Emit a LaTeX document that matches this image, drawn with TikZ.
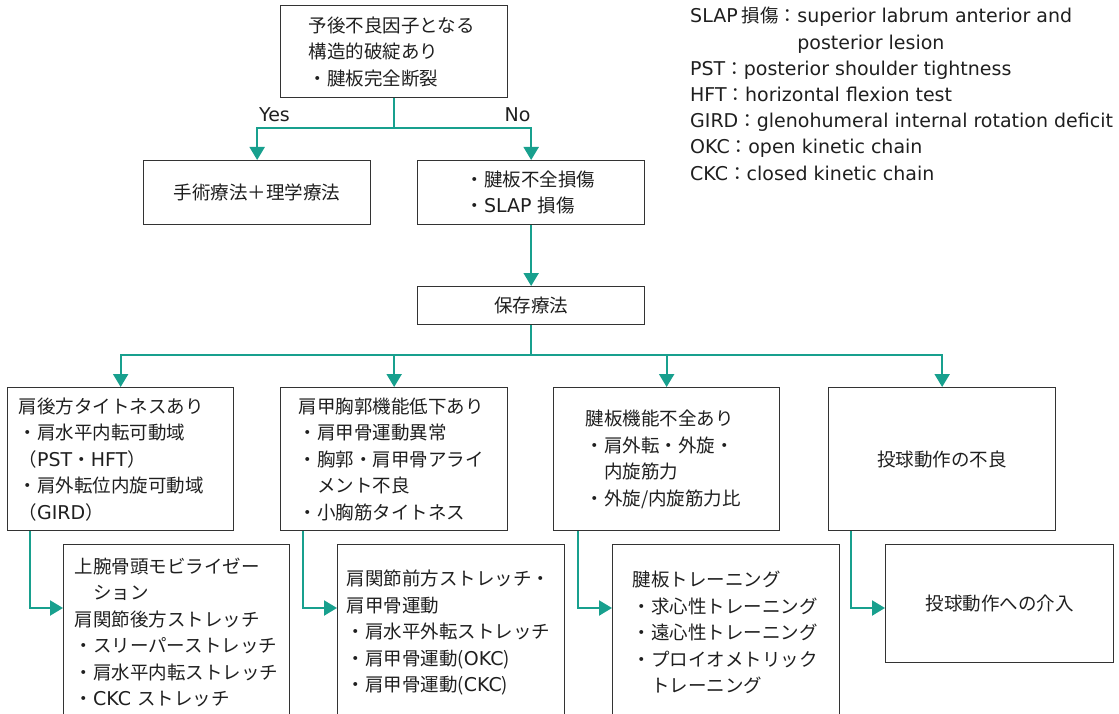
\documentclass[tikz,border=0pt]{standalone}
\usepackage{fontspec}
\setmainfont{Noto Sans CJK JP}
\newfontfamily\enfont{DejaVu Sans}
\usetikzlibrary{arrows.meta}
\definecolor{tealc}{RGB}{24,160,142}
\definecolor{boxc}{RGB}{51,51,51}
\newcommand{\E}[1]{{\enfont\fontsize{19pt}{26.5pt}\selectfont #1}}
\begin{document}
\begin{tikzpicture}[x=1pt,y=-1pt,
  every node/.style={font=\fontsize{18.5pt}{26.5pt}\selectfont, text=black!88},
  box/.style={draw=boxc, line width=1.3pt, rectangle, anchor=north west, inner ysep=0pt, align=left},
  cbox/.style={draw=boxc, line width=1.3pt, rectangle, anchor=north west, inner sep=0pt, align=center},
  link/.style={draw=tealc, line width=2.2pt, line join=miter},
  arr/.style={link, -{Triangle[width=15pt,length=13pt]}},
  legend/.style={anchor=base west, inner sep=0pt}
]
\useasboundingbox (0,0) rectangle (1119,714);

% top decision
\node[box, text width=171pt, inner xsep=28pt, minimum height=92pt] (top) at (280,5)
  {予後不良因子となる\\構造的破綻あり\\・腱板完全断裂};
\node[cbox, minimum width=227pt, minimum height=64pt] (surg) at (143,160) {手術療法＋理学療法};
\node[box, text width=131pt, inner xsep=48pt, minimum height=64pt] (no) at (417,160)
  {・腱板不全損傷\\・\E{SLAP} 損傷};
\node[cbox, minimum width=227pt, minimum height=38pt] (keep) at (417,286) {保存療法};

\node (yes) at (274.5,115) {\E{Yes}};
\node (nolab) at (517.5,115) {\E{No}};

% second level
\node[box, text width=204pt, inner xsep=11pt, minimum height=143pt] (A) at (7,387)
  {肩後方タイトネスあり\\・肩水平内転可動域\\（\E{PST}・\E{HFT}）\\・肩外転位内旋可動域\\（\E{GIRD}）};
\node[box, text width=191pt, inner xsep=18pt, minimum height=143pt] (B) at (280,387)
  {肩甲胸郭機能低下あり\\・肩甲骨運動異常\\・胸郭・肩甲骨アライ\\\hspace*{1em}メント不良\\・小胸筋タイトネス};
\node[box, text width=162pt, inner xsep=32pt, minimum height=143pt] (C) at (553,387)
  {腱板機能不全あり\\・肩外転・外旋・\\\hspace*{1em}内旋筋力\\・外旋/内旋筋力比};
\node[cbox, minimum width=227pt, minimum height=143pt] (D) at (828,387) {投球動作の不良};

% third level
\node[box, text width=204pt, inner xsep=11pt, minimum height=176pt] (E) at (63,544)
  {上腕骨頭モビライゼー\\\hspace*{1em}ション\\肩関節後方ストレッチ\\・スリーパーストレッチ\\・肩水平内転ストレッチ\\・\E{CKC} ストレッチ};
\node[box, text width=209pt, inner xsep=9pt, minimum height=176pt] (F) at (337,544)
  {肩関節前方ストレッチ・\\肩甲骨運動\\・肩水平外転ストレッチ\\・肩甲骨運動(\E{OKC})\\・肩甲骨運動(\E{CKC})};
\node[box, text width=187pt, inner xsep=20pt, minimum height=176pt] (G) at (612,544)
  {腱板トレーニング\\・求心性トレーニング\\・遠心性トレーニング\\・プロイオメトリック\\\hspace*{1em}トレーニング};
\node[cbox, minimum width=228pt, minimum height=118pt] (H) at (885,544) {投球動作への介入};

% connectors
\coordinate (split1) at (393.5,128);
\draw[arr] (top.south) |- (surg.north |- split1) -- (surg.north);
\draw[arr] (top.south) |- (no.north |- split1) -- (no.north);
\draw[arr] (no.south) -- (keep.north);
\coordinate (split2) at (530.5,355);
\draw[arr] (keep.south) |- (A.north |- split2) -- (A.north);
\draw[arr] (keep.south) |- (B.north |- split2) -- (B.north);
\draw[arr] (keep.south) |- (C.north |- split2) -- (C.north);
\draw[arr] (keep.south) |- (D.north |- split2) -- (D.north);
\draw[arr] ([xshift=23pt]A.south west) |- ([yshift=-64pt]E.north west);
\draw[arr] ([xshift=23pt]B.south west) |- ([yshift=-64pt]F.north west);
\draw[arr] ([xshift=25pt]C.south west) |- ([yshift=-64pt]G.north west);
\draw[arr] ([xshift=23pt]D.south west) |- ([yshift=-64pt]H.north west);

% legend
\node[legend] (l1) at (690,23) {\E{SLAP} 損傷：\E{superior labrum anterior and}};
\node[legend] (l2) at (690,49.2) {\hphantom{\E{SLAP} 損傷：}\E{posterior lesion}};
\node[legend] (l3) at (690,75.4) {\E{PST}：\E{posterior shoulder tightness}};
\node[legend] (l4) at (690,101.6) {\E{HFT}：\E{horizontal flexion test}};
\node[legend] (l5) at (690,127.8) {\E{GIRD}：\E{glenohumeral internal rotation deficit}};
\node[legend] (l6) at (690,154) {\E{OKC}：\E{open kinetic chain}};
\node[legend] (l7) at (690,180.2) {\E{CKC}：\E{closed kinetic chain}};
\end{tikzpicture}
\end{document}
